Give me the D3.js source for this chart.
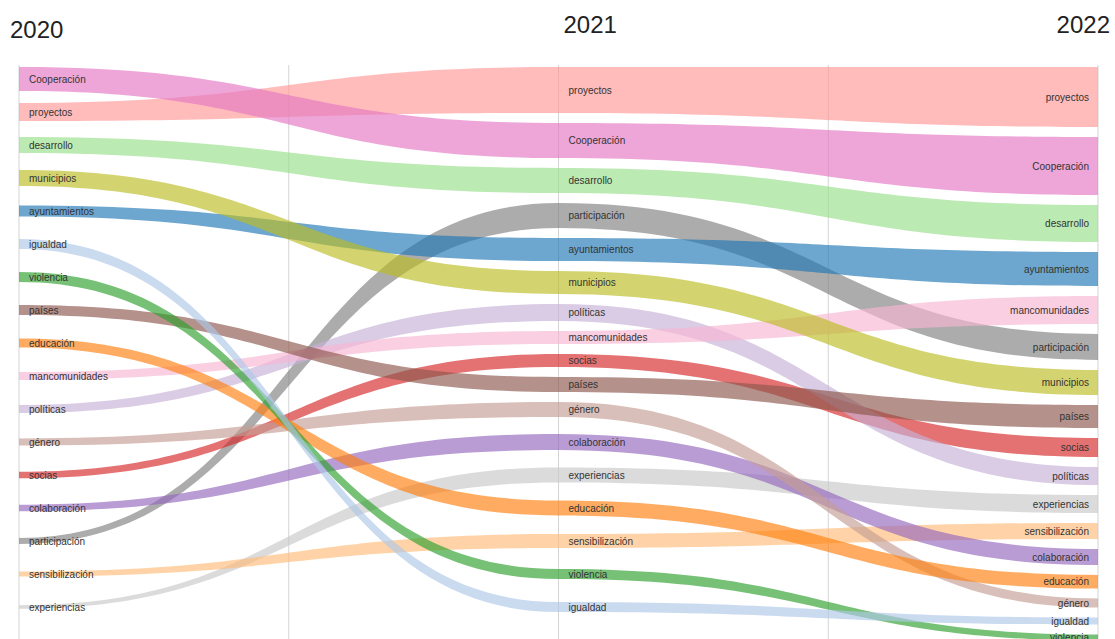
<!DOCTYPE html>
<html><head><meta charset="utf-8">
<script src="https://cdn.jsdelivr.net/npm/d3@7"></script>
<style>
body{margin:0;background:#fff;}
svg{display:block;font-family:"Liberation Sans",Arial,sans-serif;}
</style>
</head><body>
<svg id="chart" width="1115" height="639"></svg>
<script>
// ---- data ----
const years = ["2020", "2021", "2022"];
const terms = ["Cooperación","proyectos","desarrollo","municipios","ayuntamientos","igualdad","violencia","países","educación","mancomunidades","políticas","género","socias","colaboración","participación","sensibilización","experiencias"];
const values2020 = [24, 18, 16, 16, 11, 10, 10, 10, 9, 8, 8, 7, 6.5, 6.5, 6, 5, 3.5];
const values2021 = [35, 46, 25, 23, 23, 10, 10, 15, 15, 13, 17, 15, 13, 16, 25, 14, 15];
const values2022 = [58, 60, 37, 25, 34, 7, 6, 23, 13.5, 28, 18, 9, 19, 16, 26, 16, 18];
const ranks2020 = [1, 2, 3, 4, 5, 6, 7, 8, 9, 10, 11, 12, 13, 14, 15, 16, 17];
const ranks2021 = [2, 1, 3, 6, 5, 17, 16, 10, 14, 8, 7, 11, 9, 12, 4, 15, 13];
const ranks2022 = [2, 1, 3, 7, 4, 16, 17, 8, 14, 5, 10, 15, 9, 13, 6, 12, 11];
const colors = ["#e377c2","#ff9896","#98df8a","#bcbd22","#1f77b4","#aec7e8","#2ca02c","#8c564b","#ff7f0e","#f7b6d2","#c5b0d5","#c49c94","#d62728","#9467bd","#7f7f7f","#ffbb78","#c7c7c7"];

const valuesByYear = [values2020, values2021, values2022];
const ranksByYear = [ranks2020, ranks2021, ranks2022];

// ---- layout ----
const svg = d3.select("#chart");
const x = d3.scalePoint().domain(years).range([19, 1098]);
const thick = d3.scaleLinear().domain([0, 60]).range([0, 60]);
const slot = d3.scalePoint().domain(d3.range(1, terms.length + 1)).range([79, 607]);
const color = d3.scaleOrdinal().domain(terms).range(colors);
const topY = 67, pad = 10;

function layout(vals, ranks) {
  const nodes = terms.map((t, i) => ({ i, r: ranks[i], h: thick(vals[i]) }));
  nodes.sort((a, b) => a.r - b.r);
  let y = topY;
  nodes.forEach(n => {
    let y0 = slot(n.r) - n.h / 2;
    if (y0 < y) y0 = y;
    n.y0 = y0; n.y1 = y0 + n.h;
    y = n.y1 + pad;
  });
  const out = [];
  nodes.forEach(n => out[n.i] = n);
  return out;
}
const cols = years.map((yr, k) => layout(valuesByYear[k], ranksByYear[k]));

// grid lines: each year column plus midpoints
const gridX = [];
years.forEach((yr, k) => {
  gridX.push(x(yr));
  if (k < years.length - 1) gridX.push((x(yr) + x(years[k + 1])) / 2);
});
svg.append("g").selectAll("line").data(gridX).join("line")
  .attr("x1", d => d).attr("x2", d => d)
  .attr("y1", 65).attr("y2", 639)
  .attr("stroke", "#d4d4d4").attr("stroke-width", 1);

// streams
const area = d3.area()
  .x(d => d.x).y0(d => d.y0).y1(d => d.y1)
  .curve(d3.curveBumpX);

const streams = terms.map((t, i) => ({
  term: t,
  pts: years.map((yr, k) => ({ x: x(yr), y0: cols[k][i].y0, y1: cols[k][i].y1 }))
}));

svg.append("g").selectAll("path").data(streams.slice().reverse()).join("path")
  .attr("d", d => area(d.pts))
  .attr("fill", d => color(d.term))
  .attr("fill-opacity", 0.65);

// labels
const lab = svg.append("g").attr("font-size", "10px").attr("fill", "#333");
years.forEach((yr, k) => {
  const last = k === years.length - 1;
  lab.append("g").selectAll("text").data(terms).join("text")
    .attr("x", last ? x(yr) - 9 : x(yr) + 10)
    .attr("y", (t, i) => (cols[k][i].y0 + cols[k][i].y1) / 2)
    .attr("dy", "0.35em")
    .attr("text-anchor", last ? "end" : "start")
    .text(t => t);
});

// year titles
const yearAnchor = ["start", "start", "end"];
const yearDx = [-9, 5, 12];
const yearY = [38, 33, 33];
svg.append("g").selectAll("text").data(years).join("text")
  .attr("x", (d, k) => x(d) + yearDx[k])
  .attr("y", (d, k) => yearY[k])
  .attr("text-anchor", (d, k) => yearAnchor[k])
  .attr("font-size", "24px")
  .attr("fill", "#222")
  .text(d => d);
</script>
</body></html>
